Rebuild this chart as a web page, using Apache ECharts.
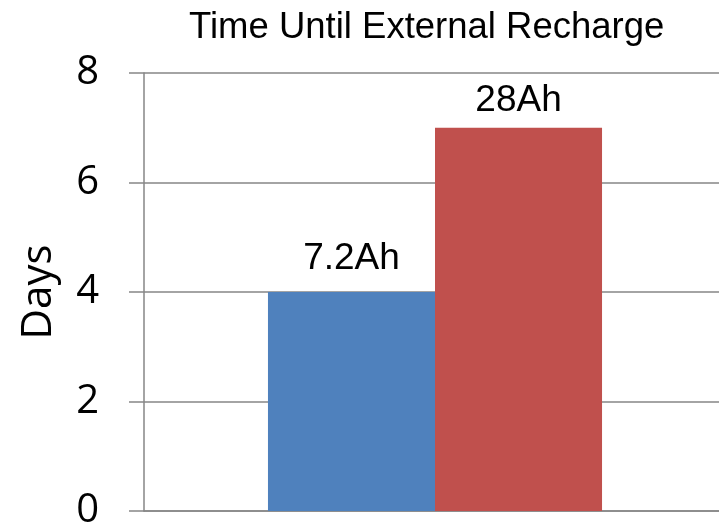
<!DOCTYPE html>
<html>
<head>
<meta charset="utf-8">
<style>
  html, body { margin: 0; padding: 0; background: #fff; }
  #chart { width: 719px; height: 526px; }
</style>
<script src="https://cdn.jsdelivr.net/npm/echarts@6/dist/echarts.min.js"></script>
</head>
<body>
<div id="chart"></div>
<script>
// Battery options and how many days each lasts before an external recharge
const categories = [''];
const batteryNames = ['7.2Ah', '28Ah'];
const daysUntilRecharge = [4, 7];
const yTicks = { min: 0, max: 8, interval: 2 };

// Styling per bar
const barColors = ['#4F81BD', '#C0504D'];
const labelDistances = [15, 8];

const chart = echarts.init(document.getElementById('chart'), null, { renderer: 'canvas' });

const series = batteryNames.map((name, i) => ({
  name: name,
  type: 'bar',
  data: [daysUntilRecharge[i]],
  barGap: '0%',
  barCategoryGap: '42.6%',
  itemStyle: { color: barColors[i] },
  label: {
    show: true,
    position: 'top',
    distance: labelDistances[i],
    formatter: '{a}',
    color: '#000',
    fontFamily: 'Liberation Sans, Arial, sans-serif',
    fontSize: 37
  }
}));

chart.setOption({
  animation: false,
  backgroundColor: '#fff',
  title: {
    text: 'Time Until External Recharge',
    left: 184,
    top: 4,
    textStyle: {
      fontFamily: 'Liberation Sans, Arial, sans-serif',
      fontSize: 36.5,
      fontWeight: 'normal',
      color: '#000'
    }
  },
  grid: {
    left: 144, right: -7, top: 73, bottom: 15,
    containLabel: false,
    outerBoundsMode: 'none'
  },
  xAxis: {
    type: 'category',
    data: categories,
    axisLine: { show: true, lineStyle: { color: '#868686', width: 1.5 } },
    axisTick: { show: false },
    axisLabel: { show: false }
  },
  yAxis: {
    type: 'value',
    min: yTicks.min,
    max: yTicks.max,
    interval: yTicks.interval,
    name: 'Days',
    nameLocation: 'middle',
    nameGap: 84,
    nameTextStyle: {
      fontFamily: 'Open Sans, sans-serif',
      fontSize: 42,
      color: '#000'
    },
    axisLine: { show: true, lineStyle: { color: '#868686', width: 1.5 } },
    axisTick: { show: true, inside: false, length: 15, lineStyle: { color: '#868686', width: 1.5 } },
    axisLabel: {
      margin: 45,
      fontFamily: 'Open Sans, sans-serif',
      fontSize: 40,
      color: '#000'
    },
    splitLine: { show: true, lineStyle: { color: '#868686', width: 1.5 } }
  },
  series: series
});
</script>
</body>
</html>
